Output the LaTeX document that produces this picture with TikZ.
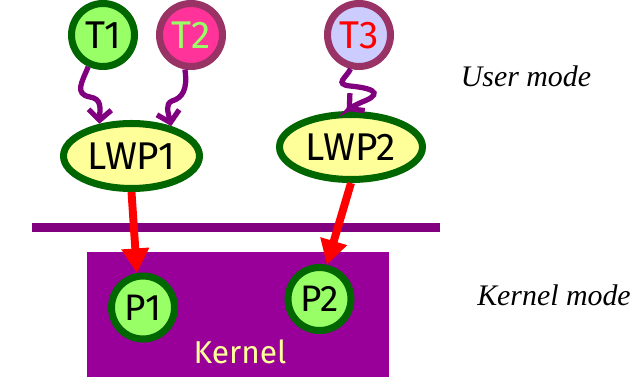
\documentclass[tikz,border=0pt]{standalone}
\usepackage{fontspec}
\setmainfont{Fira Sans}
\newfontfamily\modefont{Liberation Serif}
\usetikzlibrary{shapes.geometric, arrows.meta, positioning}

\definecolor{leafgreen}{HTML}{99FF66}
\definecolor{darkgreen}{HTML}{006600}
\definecolor{paleyellow}{HTML}{FFFF99}
\definecolor{hotpink}{HTML}{FF3399}
\definecolor{plum}{HTML}{993366}
\definecolor{lavender}{HTML}{CCCCFF}
\definecolor{violet}{HTML}{800080}
\definecolor{kernelpurple}{HTML}{990099}

\begin{document}
\begin{tikzpicture}[x=0.02cm, y=-0.02cm, every node/.style={font=\fontsize{22}{24}\selectfont}]
\tikzstyle{thread} = [circle, minimum size=1.26cm, inner sep=0pt, line width=4pt, draw=darkgreen, fill=leafgreen]
\tikzstyle{lwp} = [ellipse, minimum width=2.72cm, minimum height=1.3cm, inner sep=0pt, line width=4pt, draw=darkgreen, fill=paleyellow, font=\fontsize{22}{24}\selectfont]
\tikzstyle{kernelbox} = [rectangle, minimum width=6.04cm, minimum height=2.5cm, inner sep=0pt, fill=kernelpurple]
\tikzstyle{mode} = [font=\modefont\itshape\fontsize{17}{20}\selectfont]
\tikzstyle{link} = [line width=3pt, violet, -{Straight Barb[length=6pt, width=13pt]}]
\tikzstyle{bind} = [line width=4.5pt, red, -{Triangle[length=14pt, width=15pt]}]

\useasboundingbox (0,0) rectangle (642,378);

% kernel area and the user/kernel boundary
\node (kernel) [kernelbox] at (238,314.5) {};
\fill[violet] (32,223) rectangle (440,232);

% user threads
\node (t1) [thread] at (103,35) {T1};
\node (t2) [thread, draw=plum, fill=hotpink, text=leafgreen] at (191,35) {T2};
\node (t3) [thread, draw=plum, fill=lavender, text=red] at (359,35) {T3};

% light-weight processes
\node (lwp1) [lwp] at (131.5,156) {LWP1};
\node (lwp2) [lwp, minimum width=2.86cm] at (351,147) {LWP2};

% kernel processes
\node (p1) [thread, font=\fontsize{21}{23}\selectfont] at (143,307.5) {P1};
\node (p2) [thread, font=\fontsize{21}{23}\selectfont] at (319.5,299) {P2};
\node (klabel) [text=paleyellow, font=\fontsize{18}{20}\selectfont] at (240,352) {Kernel};

% mode labels
\node (user) [mode] at (526,76) {User mode};
\node (kmode) [mode] at (554,295) {Kernel mode};

% threads onto LWPs
\draw [link] (t1.-115) .. controls (82,82) and (74,94) .. (90,97) .. controls (102,99) and (100,108) .. (lwp1.135);
\draw [link] (t2.-100) .. controls (188,90) and (182,98) .. (172,101) .. controls (165,104) and (168,112) .. (lwp1.37);
\draw [link] (t3.-104) .. controls (346,78) and (334,84) .. (350,86) .. controls (382,89) and (378,96) .. (362,102) .. controls (353,106) and (349,109) .. (lwp2.97);

% LWPs onto kernel processes
\draw [bind] (lwp1.south) -- (p1.100);
\draw [bind] (lwp2.south) -- (p2.78);

\end{tikzpicture}
\end{document}
